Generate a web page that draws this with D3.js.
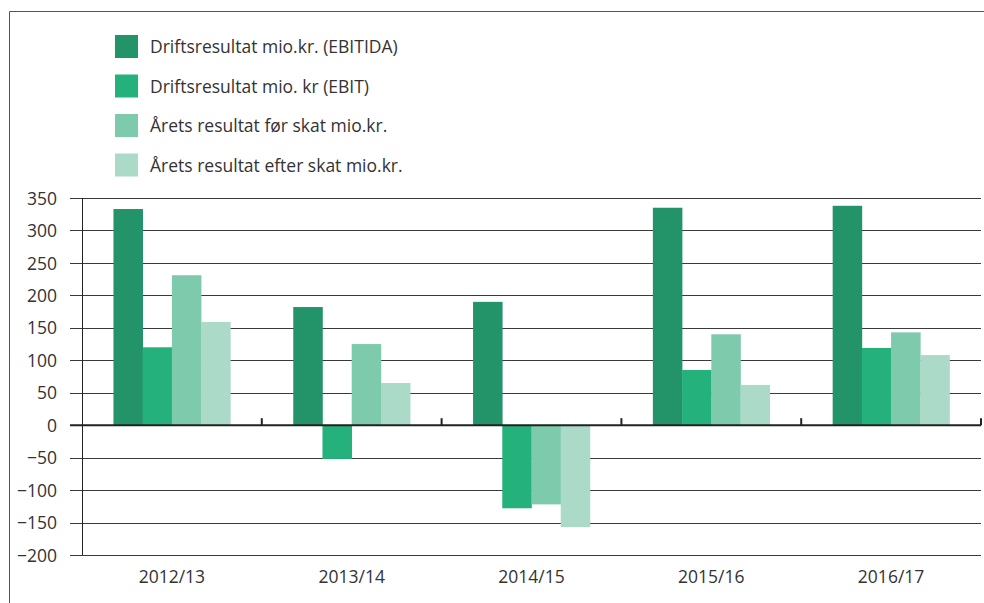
<!DOCTYPE html>
<html>
<head>
<meta charset="utf-8">
<script src="https://cdn.jsdelivr.net/npm/d3@7"></script>
<style>
  body { margin: 0; background: #fff; }
  svg text { font-family: "Open Sans", sans-serif; fill: #333; }
</style>
</head>
<body>
<div id="chart"></div>
<script>
var years = ['2012/13', '2013/14', '2014/15', '2015/16', '2016/17'];
var seriesNames = [
    'Driftsresultat mio.kr. (EBITIDA)',
    'Driftsresultat mio. kr (EBIT)',
    'Årets resultat før skat mio.kr.',
    'Årets resultat efter skat mio.kr.'
];
var ebitda = [333, 182, 190, 335, 338];
var ebit = [120, -52, -128, 85, 119];
var foerSkat = [231, 125, -122, 140, 143];
var efterSkat = [159, 65, -157, 62, 108];
var yTicks = [-200, -150, -100, -50, 0, 50, 100, 150, 200, 250, 300, 350];

var colors = ['#23936a', '#25b17b', '#7dcaad', '#abdac8'];
var allSeries = [ebitda, ebit, foerSkat, efterSkat];

var width = 984,
    height = 603,
    margin = { top: 198, right: 3, bottom: 48, left: 82 };

var svg = d3.select('#chart').append('svg')
    .attr('width', width)
    .attr('height', height);

// frame
svg.append('path')
    .attr('d', 'M9.5,' + height + 'V11.5H' + width)
    .attr('fill', 'none')
    .attr('stroke', '#555')
    .attr('stroke-width', 1);

var x0 = d3.scaleBand()
    .domain(years)
    .range([margin.left, width - margin.right])
    .paddingInner(0.35)
    .paddingOuter(0.175);

var x1 = d3.scaleBand()
    .domain(d3.range(allSeries.length))
    .range([0, x0.bandwidth()]);

var y = d3.scaleLinear()
    .domain([-200, 350])
    .range([height - margin.bottom, margin.top]);

// tick labels
var yAxis = d3.axisLeft(y)
    .tickValues(yTicks)
    .tickSize(0)
    .tickPadding(25);

var gy = svg.append('g')
    .attr('transform', 'translate(' + margin.left + ',0)')
    .call(yAxis);
gy.select('.domain').remove();
gy.selectAll('text').style('font-size', '17.5px').attr('dy', '0.35em');

// grid lines
svg.append('g').selectAll('line')
    .data(yTicks.filter(function(d){ return d !== 0; }))
    .enter().append('line')
    .attr('x1', 70)
    .attr('x2', width - margin.right)
    .attr('y1', function(d){ return Math.round(y(d)) + 0.5; })
    .attr('y2', function(d){ return Math.round(y(d)) + 0.5; })
    .attr('stroke', '#3a3a3a')
    .attr('stroke-width', 1);

// bars
var rows = years.map(function(yr, i){
    return allSeries.map(function(s, j){ return { year: yr, k: j, value: s[i] }; });
});

svg.append('g').selectAll('g')
    .data(rows)
    .enter().append('g')
    .attr('transform', function(d){ return 'translate(' + x0(d[0].year) + ',0)'; })
    .selectAll('rect')
    .data(function(d){ return d; })
    .enter().append('rect')
    .attr('x', function(d){ return x1(d.k); })
    .attr('width', x1.bandwidth() + 0.3)
    .attr('y', function(d){ return y(Math.max(0, d.value)); })
    .attr('height', function(d){ return Math.abs(y(d.value) - y(0)); })
    .attr('fill', function(d){ return colors[d.k]; });

// y axis line
svg.append('line')
    .attr('x1', margin.left + 0.5).attr('x2', margin.left + 0.5)
    .attr('y1', y(350)).attr('y2', y(-200))
    .attr('stroke', '#222');

// zero line with category ticks
var zy = y(0);
svg.append('line')
    .attr('x1', 70).attr('x2', width - margin.right)
    .attr('y1', zy).attr('y2', zy)
    .attr('stroke', '#222')
    .attr('stroke-width', 2);

var step = x0.step();
svg.append('g').selectAll('line')
    .data(years)
    .enter().append('line')
    .attr('x1', function(d){ return x0(d) + x0.bandwidth() + step * 0.175; })
    .attr('x2', function(d){ return x0(d) + x0.bandwidth() + step * 0.175; })
    .attr('y1', zy - 7)
    .attr('y2', zy)
    .attr('stroke', '#222')
    .attr('stroke-width', 2);

// x labels
svg.append('g').selectAll('text')
    .data(years)
    .enter().append('text')
    .attr('x', function(d){ return x0(d) + x0.bandwidth() / 2; })
    .attr('y', 583)
    .attr('text-anchor', 'middle')
    .style('font-size', '17.5px')
    .text(function(d){ return d; });

// legend
var legend = svg.append('g').selectAll('g')
    .data(seriesNames)
    .enter().append('g')
    .attr('transform', function(d, i){ return 'translate(115,' + (35 + i * 39.5) + ')'; });

legend.append('rect')
    .attr('width', 23)
    .attr('height', 23)
    .attr('fill', function(d, i){ return colors[i]; });

legend.append('text')
    .attr('x', 35)
    .attr('y', 12)
    .attr('dy', '0.35em')
    .style('font-size', '17.5px')
    .text(function(d){ return d; });
</script>
</body>
</html>
